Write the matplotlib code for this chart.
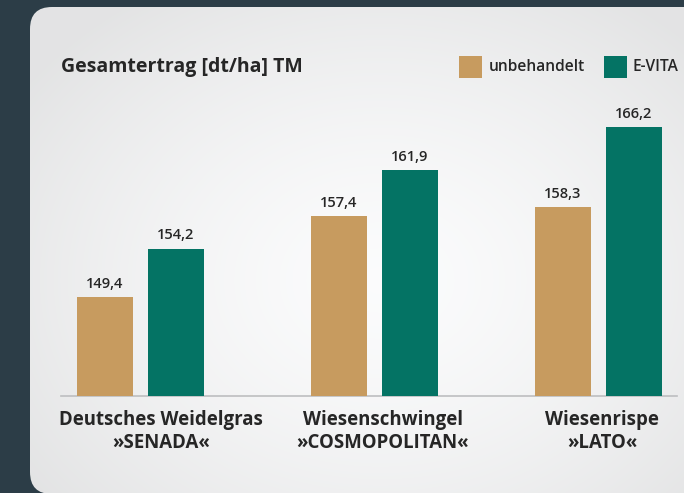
import numpy as np
import matplotlib
matplotlib.use("Agg")
import matplotlib.pyplot as plt
from matplotlib.patches import FancyBboxPatch

# Data
CATEGORIES = ["Deutsches Weidelgras\n»SENADA«",
              "Wiesenschwingel\n»COSMOPOLITAN«",
              "Wiesenrispe\n»LATO«"]
UNBEHANDELT = [149.4, 157.4, 158.3]
EVITA = [154.2, 161.9, 166.2]
SERIES = ["unbehandelt", "E-VITA"]
TITLE = "Gesamtertrag [dt/ha] TM"

# Style
FONT = "Open Sans"
DARK_BG = "#2C3D47"
TAN = "#C79B5F"
TEAL = "#047364"
TEXT = "#262626"
W, H = 684, 493

# group layout (group units)
GROUP_X = [0.0, 1.0, 1.96]
LABEL_X = [0.088, 1.038, 1.975]
BAR_W = 0.24
OFFSET = 0.152

fig = plt.figure(figsize=(W / 100, H / 100), dpi=100, facecolor=DARK_BG)

# background card with soft radial gradient
bg = fig.add_axes([0, 0, 1, 1])
bg.set_xlim(0, W)
bg.set_ylim(H, 0)
bg.axis("off")
card = FancyBboxPatch((30, 7), W + 40, H - 6, boxstyle="round,pad=0,rounding_size=22",
                      facecolor="none", edgecolor="none")
bg.add_patch(card)
yy, xx = np.mgrid[0:H, 0:W]
d = np.sqrt(((xx - 380) / 420.0) ** 2 + ((yy - 280) / 330.0) ** 2)
shade = np.clip(0.99 - 0.09 * d ** 1.5, 0.895, 0.99)
rgb = np.dstack([shade * 0.995, shade * 0.997, shade * 1.0])
rgb = np.clip(rgb, 0, 1)
im = bg.imshow(rgb, extent=(0, W, H, 0), interpolation="bilinear", zorder=1)
im.set_clip_path(card)

# main bars
px_per_unit = 10.16
ybase = 139.7
ax = fig.add_axes([61 / W, (H - 396) / H, (677 - 61) / W, (396 - 110) / H])
ax.patch.set_alpha(0)
x = np.array(GROUP_X)
b1 = ax.bar(x - OFFSET, UNBEHANDELT, BAR_W, bottom=0, color=TAN, zorder=3)
b2 = ax.bar(x + OFFSET, EVITA, BAR_W, bottom=0, color=TEAL, zorder=3)
ax.set_ylim(ybase, ybase + (396 - 110) / px_per_unit)
ax.set_xlim(-0.340, 2.296)

for bars, vals in [(b1, UNBEHANDELT), (b2, EVITA)]:
    for rect, v in zip(bars, vals):
        ax.annotate(f"{v:.1f}".replace(".", ","),
                    (rect.get_x() + rect.get_width() / 2, v),
                    xytext=(0, 4.5), textcoords="offset points",
                    ha="center", va="bottom", fontfamily=FONT,
                    fontweight="semibold", fontsize=10.5, color=TEXT)

for side in ["top", "right", "left"]:
    ax.spines[side].set_visible(False)
ax.spines["bottom"].set_color("#BDBEC0")
ax.spines["bottom"].set_linewidth(1.2)
ax.set_yticks([])
ax.set_xticks([])

for lx, lab in zip(LABEL_X, CATEGORIES):
    ax.text(lx, -0.05, lab, transform=ax.get_xaxis_transform(),
            ha="center", va="top", fontfamily=FONT, fontweight="bold",
            fontsize=13.4, color=TEXT, linespacing=1.15)

# title
fig.text(61 / W, 1 - 67 / H, TITLE, ha="left", va="center",
         fontfamily=FONT, fontweight="bold", fontsize=14, color=TEXT)

# legend
for (sx, tx, col, lab) in [(459, 489, TAN, SERIES[0]), (604, 632, TEAL, SERIES[1])]:
    bg.add_patch(plt.Rectangle((sx, 56), 23, 22, facecolor=col, edgecolor="none", zorder=3))
    bg.text(tx, 67, lab, ha="left", va="center", fontfamily=FONT,
            fontweight="semibold", fontsize=11.2, color=TEXT, zorder=3)

fig.savefig("out.png", dpi=100, facecolor=DARK_BG)
